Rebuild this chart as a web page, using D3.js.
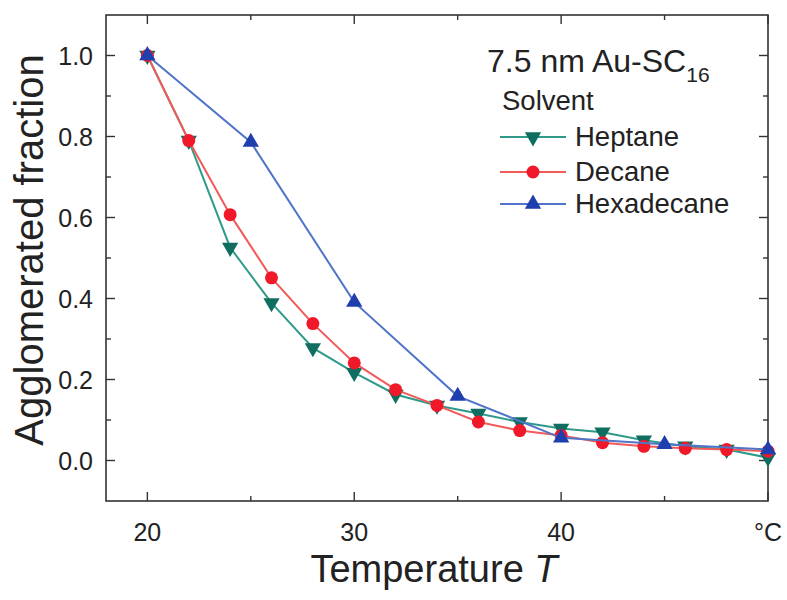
<!DOCTYPE html>
<html>
<head>
<meta charset="utf-8">
<script src="https://cdn.jsdelivr.net/npm/d3@7"></script>
<style>
  html, body { margin: 0; padding: 0; background: #fff; }
  svg text { font-family: "Liberation Sans", Arial, sans-serif; fill: #222; }
</style>
</head>
<body>
<svg id="chart" width="787" height="600"></svg>
<script>
// Temperatures (°C) and agglomerated fraction for each solvent
const heptaneT = [20, 22, 24, 26, 28, 30, 32, 34, 36, 38, 40, 42, 44, 46, 48, 50];
const heptaneF = [1.0, 0.79, 0.526, 0.389, 0.278, 0.217, 0.163, 0.136, 0.116, 0.095, 0.079, 0.070, 0.050, 0.035, 0.027, 0.007];

const decaneT = [20, 22, 24, 26, 28, 30, 32, 34, 36, 38, 40, 42, 44, 46, 48, 50];
const decaneF = [1.0, 0.79, 0.607, 0.451, 0.338, 0.241, 0.175, 0.136, 0.095, 0.074, 0.062, 0.044, 0.035, 0.030, 0.027, 0.023];

const hexadecaneT = [20, 25, 30, 35, 40, 45, 50];
const hexadecaneF = [1.0, 0.786, 0.391, 0.159, 0.056, 0.040, 0.027];

const seriesNames = ["Heptane", "Decane", "Hexadecane"];
const xTicks = [20, 30, 40];
const yTicks = [0.0, 0.2, 0.4, 0.6, 0.8, 1.0];

const svg = d3.select("#chart");
const plotL = 106, plotR = 768, plotT = 15, plotB = 501;

const x = d3.scaleLinear().domain([18, 50]).range([plotL, plotR]);
const y = d3.scaleLinear().domain([-0.1, 1.1]).range([plotB, plotT]);

const frameColor = "#333";

// Frame
svg.append("rect")
  .attr("x", plotL).attr("y", plotT)
  .attr("width", plotR - plotL).attr("height", plotB - plotT)
  .attr("fill", "none").attr("stroke", frameColor).attr("stroke-width", 1.6);

// Inward ticks on all four sides
const major = 9, minor = 5;
const xMinor = [25, 35, 45];
const yMinor = [0.1, 0.3, 0.5, 0.7, 0.9];
const ticks = svg.append("g").attr("stroke", frameColor).attr("stroke-width", 1.4);
xTicks.concat([50]).forEach(v => {
  ticks.append("line").attr("x1", x(v)).attr("x2", x(v)).attr("y1", plotB).attr("y2", plotB - major);
  ticks.append("line").attr("x1", x(v)).attr("x2", x(v)).attr("y1", plotT).attr("y2", plotT + major);
});
xMinor.forEach(v => {
  ticks.append("line").attr("x1", x(v)).attr("x2", x(v)).attr("y1", plotB).attr("y2", plotB - minor);
  ticks.append("line").attr("x1", x(v)).attr("x2", x(v)).attr("y1", plotT).attr("y2", plotT + minor);
});
yTicks.forEach(v => {
  ticks.append("line").attr("x1", plotL).attr("x2", plotL + major).attr("y1", y(v)).attr("y2", y(v));
  ticks.append("line").attr("x1", plotR).attr("x2", plotR - major).attr("y1", y(v)).attr("y2", y(v));
});
yMinor.forEach(v => {
  ticks.append("line").attr("x1", plotL).attr("x2", plotL + minor).attr("y1", y(v)).attr("y2", y(v));
  ticks.append("line").attr("x1", plotR).attr("x2", plotR - minor).attr("y1", y(v)).attr("y2", y(v));
});

// Tick labels
svg.append("g").selectAll("text").data(xTicks).join("text")
  .attr("x", d => x(d)).attr("y", 541)
  .attr("text-anchor", "middle").attr("font-size", 25)
  .text(d => d3.format("d")(d));
svg.append("text").attr("x", x(50)).attr("y", 541)
  .attr("text-anchor", "middle").attr("font-size", 25).text("°C");

svg.append("g").selectAll("text").data(yTicks).join("text")
  .attr("x", 93).attr("y", d => y(d) + 9)
  .attr("text-anchor", "end").attr("font-size", 25)
  .text(d => d3.format(".1f")(d));

// Axis titles
svg.append("text")
  .attr("transform", `translate(43, ${(plotT + plotB) / 2 - 8}) rotate(-90)`)
  .attr("text-anchor", "middle").attr("font-size", 40)
  .text("Agglomerated fraction");

const xt = svg.append("text")
  .attr("x", (plotL + plotR) / 2 - 3).attr("y", 582)
  .attr("text-anchor", "middle").attr("font-size", 38);
xt.append("tspan").text("Temperature ");
xt.append("tspan").attr("font-style", "italic").text("T");

// Series
const series = [
  { name: "Heptane", t: heptaneT, f: heptaneF, line: "#2f9a8a", fill: "#0f6e60", shape: "down" },
  { name: "Decane", t: decaneT, f: decaneF, line: "#f25a5a", fill: "#f0192a", shape: "circle" },
  { name: "Hexadecane", t: hexadecaneT, f: hexadecaneF, line: "#4f74c8", fill: "#1f3fae", shape: "up" }
];

const lineGen = d3.line().x(d => x(d[0])).y(d => y(d[1]));
const triUp = d3.symbol().type(d3.symbolTriangle).size(115);

function drawMarker(g, cx, cy, s) {
  if (s.shape === "circle") {
    g.append("circle").attr("cx", cx).attr("cy", cy).attr("r", 6.5).attr("fill", s.fill);
  } else {
    g.append("path").attr("d", triUp())
      .attr("transform", `translate(${cx},${cy})${s.shape === "down" ? " rotate(180)" : ""}`)
      .attr("fill", s.fill);
  }
}

series.forEach(s => {
  const pts = s.t.map((t, i) => [t, s.f[i]]);
  const g = svg.append("g");
  g.append("path").attr("d", lineGen(pts))
    .attr("fill", "none").attr("stroke", s.line).attr("stroke-width", 2);
  pts.forEach(p => drawMarker(g, x(p[0]), y(p[1]), s));
});

// Legend
const title = svg.append("text").attr("x", 487).attr("y", 72).attr("font-size", 32);
title.append("tspan").text("7.5 nm Au-SC");
title.append("tspan").attr("font-size", 21).attr("dy", 10).text("16");

svg.append("text").attr("x", 502).attr("y", 110).attr("font-size", 27.5).text("Solvent");

const legendY = [137, 172, 204];
series.forEach((s, i) => {
  const g = svg.append("g");
  g.append("line").attr("x1", 500).attr("x2", 566)
    .attr("y1", legendY[i]).attr("y2", legendY[i])
    .attr("stroke", s.line).attr("stroke-width", 2);
  drawMarker(g, 533, legendY[i], s);
  g.append("text").attr("x", 575).attr("y", legendY[i] + 9)
    .attr("font-size", 27.5).text(seriesNames[i]);
});
</script>
</body>
</html>
